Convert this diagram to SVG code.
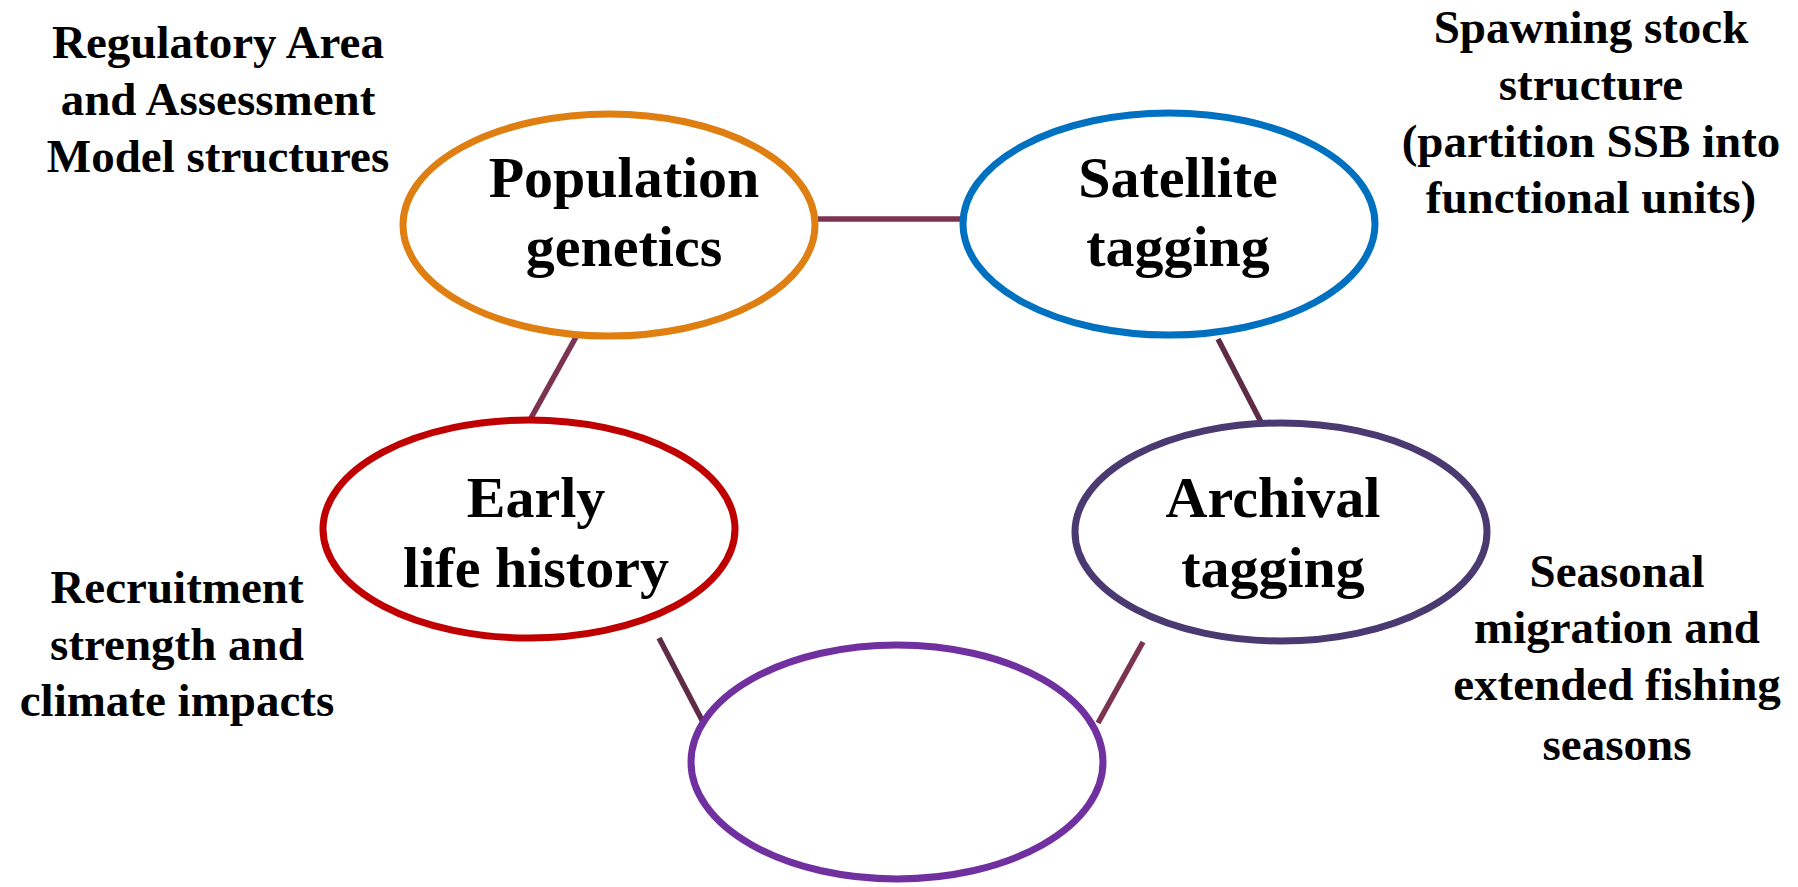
<svg xmlns="http://www.w3.org/2000/svg" width="1798" height="887" viewBox="0 0 1798 887">
  <style>
    .node { fill: #ffffff; stroke-width: 7; }
    .title { font-family: "Liberation Serif", "Times New Roman", serif; font-weight: bold; font-size: 58px; fill: #000000; text-anchor: middle; }
    .note { font-family: "Liberation Serif", "Times New Roman", serif; font-weight: bold; font-size: 47px; fill: #000000; text-anchor: middle; }
    .link { stroke: #7b3350; stroke-width: 5.5; fill: none; }
    .link-dark { stroke: #5e2c46; }
  </style>
  <rect width="1798" height="887" fill="#ffffff"/>

  <!-- connectors between the ellipses -->
  <g id="connectors">
    <line class="link" x1="818" y1="219" x2="961" y2="219"/>
    <line class="link" x1="576" y1="337" x2="531" y2="418"/>
    <line class="link link-dark" x1="1218" y1="339" x2="1261" y2="422"/>
    <line class="link link-dark" x1="659" y1="638" x2="703" y2="722"/>
    <line class="link" x1="1143" y1="642" x2="1098" y2="723"/>
  </g>

  <g id="population-genetics">
    <ellipse class="node" cx="609" cy="225" rx="206" ry="111" stroke="#df7f12"/>
    <text class="title" x="624" y="197">Population</text>
    <text class="title" x="624" y="266">genetics</text>
  </g>

  <g id="satellite-tagging">
    <ellipse class="node" cx="1169" cy="224" rx="206" ry="111" stroke="#0070c0"/>
    <text class="title" x="1178" y="197">Satellite</text>
    <text class="title" x="1178" y="266">tagging</text>
  </g>

  <g id="early-life-history">
    <ellipse class="node" cx="529" cy="529" rx="206" ry="109" stroke="#c00000"/>
    <text class="title" x="536" y="517">Early</text>
    <text class="title" x="536" y="587">life history</text>
  </g>

  <g id="archival-tagging">
    <ellipse class="node" cx="1281" cy="532" rx="206" ry="109" stroke="#4b3a72"/>
    <text class="title" x="1273" y="517">Archival</text>
    <text class="title" x="1273" y="587">tagging</text>
  </g>

  <g id="empty-node">
    <ellipse class="node" cx="897" cy="762" rx="206" ry="117" stroke="#7030a0"/>
  </g>

  <g id="note-regulatory">
    <text class="note" x="218" y="58">Regulatory Area</text>
    <text class="note" x="218" y="115">and Assessment</text>
    <text class="note" x="218" y="172">Model structures</text>
  </g>

  <g id="note-spawning">
    <text class="note" x="1591" y="43">Spawning stock</text>
    <text class="note" x="1591" y="100">structure</text>
    <text class="note" x="1591" y="157">(partition SSB into</text>
    <text class="note" x="1591" y="213">functional units)</text>
  </g>

  <g id="note-recruitment">
    <text class="note" x="177" y="603">Recruitment</text>
    <text class="note" x="177" y="660">strength and</text>
    <text class="note" x="177" y="716">climate impacts</text>
  </g>

  <g id="note-seasonal">
    <text class="note" x="1617" y="587">Seasonal</text>
    <text class="note" x="1617" y="643">migration and</text>
    <text class="note" x="1617" y="700">extended fishing</text>
    <text class="note" x="1617" y="760">seasons</text>
  </g>
</svg>
